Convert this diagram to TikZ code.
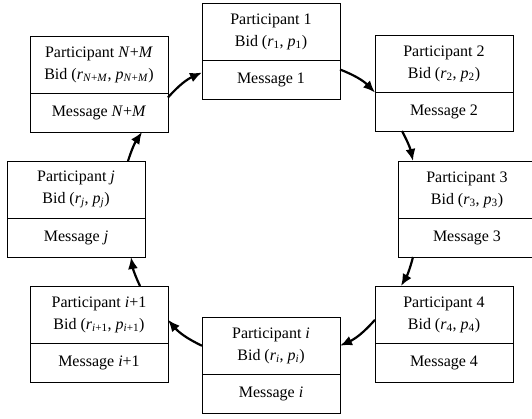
\documentclass[tikz,border=0pt]{standalone}
\usepackage{fontspec}
\setmainfont{Liberation Serif}
\usetikzlibrary{positioning}
\usetikzlibrary{arrows.meta}

\begin{document}
\begin{tikzpicture}[x = 1pt, y = -1pt, font = {\fontsize{16}{21.5}\selectfont},
  bidbox/.style = {draw, line width = 1pt, minimum width = 138pt, minimum height = 57.5pt,
                   inner sep = 0pt, outer sep = 0pt, align = center, anchor = north west},
  msgbox/.style = {draw, line width = 1pt, minimum width = 138pt, minimum height = 38.5pt,
                   inner sep = 0pt, outer sep = 0pt},
  freccia/.style = {-{Latex[length = 12pt, width = 10pt]}, line width = 2.2pt}]
  % Area della figura
  \useasboundingbox (0,0) rectangle (532,418);

  % Partecipante 1
  \node[bidbox] (b1) at (202,3) {Participant 1\\Bid (\textit{r}\textsubscript{1}, \textit{p}\textsubscript{1})};
  \node[msgbox, below = 0pt of b1] (m1) {Message 1};

  % Partecipante 2
  \node[bidbox] (b2) at (375,35) {Participant 2\\Bid (\textit{r}\textsubscript{2}, \textit{p}\textsubscript{2})};
  \node[msgbox, below = 0pt of b2] (m2) {Message 2};

  % Partecipante 3
  \node[bidbox] (b3) at (398,161) {Participant 3\\Bid (\textit{r}\textsubscript{3}, \textit{p}\textsubscript{3})};
  \node[msgbox, below = 0pt of b3] (m3) {Message 3};

  % Partecipante 4
  \node[bidbox] (b4) at (375,286) {Participant 4\\Bid (\textit{r}\textsubscript{4}, \textit{p}\textsubscript{4})};
  \node[msgbox, below = 0pt of b4] (m4) {Message 4};

  % Partecipante i
  \node[bidbox] (bi) at (202,317) {Participant \textit{i}\\Bid (\textit{r\textsubscript{i}}, \textit{p\textsubscript{i}})};
  \node[msgbox, below = 0pt of bi] (mi) {Message \textit{i}};

  % Partecipante i+1
  \node[bidbox] (bii) at (30,286) {Participant \textit{i}+1\\Bid (\textit{r}\textsubscript{\textit{i}+1}, \textit{p}\textsubscript{\textit{i}+1})};
  \node[msgbox, below = 0pt of bii] (mii) {Message \textit{i}+1};

  % Partecipante j
  \node[bidbox] (bj) at (7,161) {Participant \textit{j}\\Bid (\textit{r\textsubscript{j}}, \textit{p\textsubscript{j}})};
  \node[msgbox, below = 0pt of bj] (mj) {Message \textit{j}};

  % Partecipante N+M
  \node[bidbox] (bnm) at (30,36) {Participant \textit{N}+\textit{M}\\Bid (\textit{r}\textsubscript{\textit{N}+\textit{M}}, \textit{p}\textsubscript{\textit{N}+\textit{M}})};
  \node[msgbox, below = 0pt of bnm] (mnm) {Message \textit{N}+\textit{M}};

  % Anello dei messaggi
  \draw[freccia] ([yshift=-4pt]mnm.north east) to[bend left=12] ([yshift=-12pt]m1.north west);
  \draw[freccia] ([yshift=-9pt]m1.north east) to[bend left=12] (m2.north west);
  \draw[freccia] ([xshift=27pt]m2.south west) to[bend left=8] ([xshift=15pt]b3.north west);
  \draw[freccia] ([xshift=15pt]m3.south west) to[bend left=8] ([xshift=26pt]b4.north west);
  \draw[freccia] ([yshift=-5pt]b4.west) to[bend left=12] (bi.east);
  \draw[freccia] (bi.west) to[bend left=12] ([yshift=-5pt]bii.east);
  \draw[freccia] ([xshift=-28pt]bii.north east) to[bend left=8] ([xshift=-14pt]mj.south east);
  \draw[freccia] ([xshift=-17pt]bj.north east) to[bend left=8] ([xshift=-26pt]mnm.south east);
\end{tikzpicture}
\end{document}
